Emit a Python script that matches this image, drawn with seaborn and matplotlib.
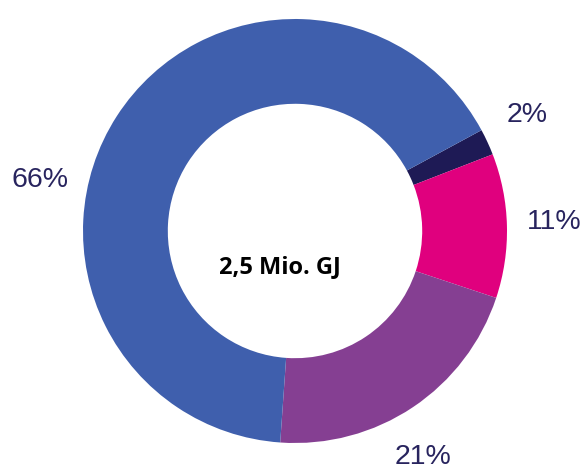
import numpy as np
import matplotlib.pyplot as plt
import seaborn as sns

# shares of the 2,5 Mio. GJ, clockwise from the small slice at top right
labels = ["2%", "11%", "21%", "66%"]
shares = [2, 11, 21, 66]
colors = ["#1e1a55", "#e0007e", "#853f92", "#3f5fad"]
center_text = "2,5 Mio. GJ"

# where each percentage label sits (degrees, counter-clockwise from east)
label_angles = [26.5, 2.0, -60.5, 168.7]
label_radius = 1.225

sns.set_theme(style="white")
plt.rcParams["font.family"] = ["Liberation Sans", "DejaVu Sans"]

fig = plt.figure(figsize=(5.86, 4.75), dpi=100)
ax = fig.add_axes([0, 0, 1, 1])

wedges, _ = ax.pie(shares, colors=colors, startangle=28.4, counterclock=False,
                   radius=1.0, wedgeprops=dict(width=0.4, linewidth=0))

for lab, ang in zip(labels, label_angles):
    a = np.deg2rad(ang)
    ax.text(label_radius * np.cos(a), label_radius * np.sin(a), lab,
            ha="center", va="center", fontsize=20.5, color="#28245e")

ax.text(-0.07, -0.17, center_text, ha="center", va="center", fontsize=17,
        fontweight="bold", color="black", family=["Open Sans", "DejaVu Sans"])

# pixel scale ~212 px per unit, centre at (295, 231) from top-left
s = 212.0
ax.set_xlim(-295 / s, (586 - 295) / s)
ax.set_ylim(-(475 - 231) / s, 231 / s)
ax.set_aspect("auto")
ax.axis("off")

fig.savefig("out.png", dpi=100)
